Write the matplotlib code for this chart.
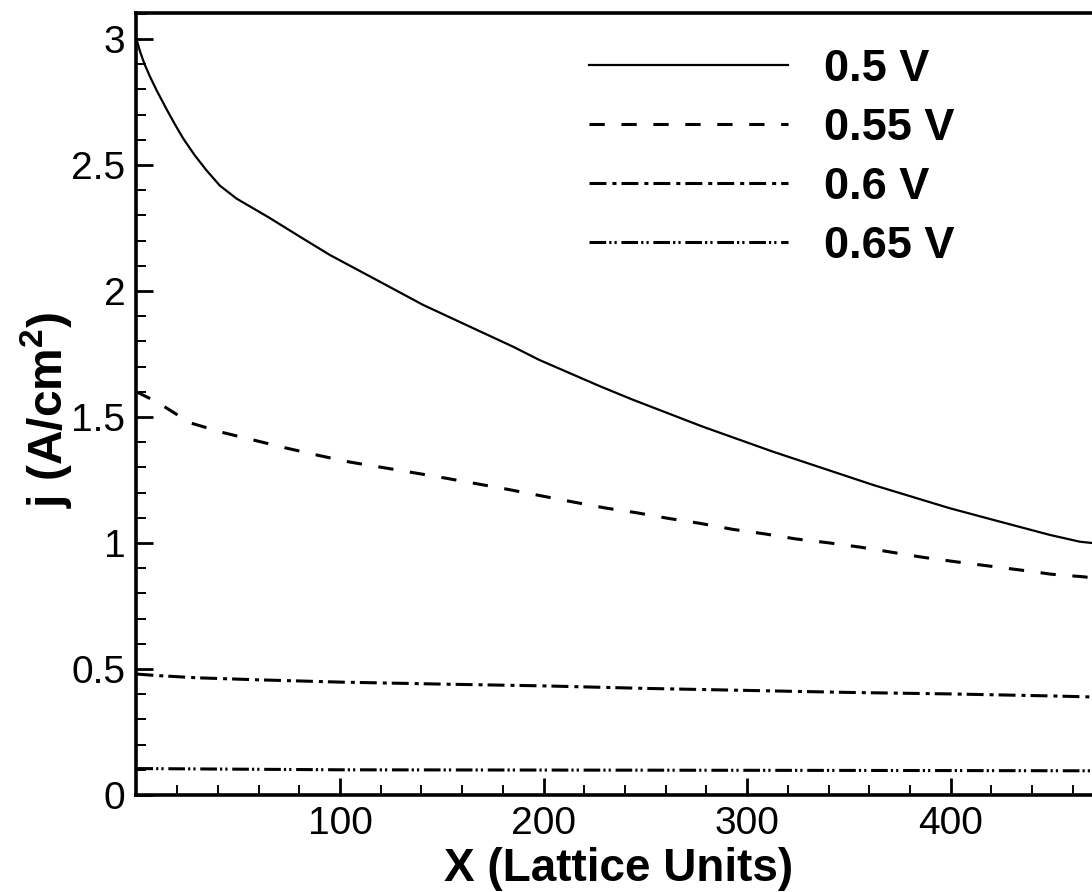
import matplotlib
matplotlib.use("Agg")
import matplotlib.pyplot as plt
from matplotlib.ticker import MultipleLocator

# ---- data ----
labels = ["0.5 V", "0.55 V", "0.6 V", "0.65 V"]

x_05 = [0, 1.8, 4, 6.7, 10, 14.9, 19, 23, 28.5, 34.5, 41, 49.3, 65, 80.4, 95, 120,
        141, 165.5, 185, 198, 227.7, 244, 278.4, 312.8, 362, 399.5, 424, 448.7,
        463.5, 469.4]
j_05 = [3.00, 2.95, 2.90, 2.85, 2.795, 2.72, 2.66, 2.605, 2.54, 2.478, 2.418, 2.366,
        2.292, 2.215, 2.143, 2.035, 1.944, 1.852, 1.779, 1.726, 1.622, 1.568, 1.461,
        1.362, 1.230, 1.138, 1.085, 1.032, 1.005, 1.000]

x_055 = [0, 5, 10, 26.3, 42.1, 57.3, 72.9, 89.2, 104.9, 120.6, 150, 181, 213, 231,
         245.7, 261, 276.8, 293, 308.7, 324, 339.7, 356, 386.5, 402, 418.4, 434,
         449.5, 465, 469.4]
j_055 = [1.60, 1.58, 1.56, 1.477, 1.439, 1.409, 1.378, 1.348, 1.321, 1.300, 1.26,
         1.215, 1.165, 1.138, 1.120, 1.098, 1.078, 1.054, 1.036, 1.016, 1.001, 0.983,
         0.943, 0.926, 0.909, 0.893, 0.876, 0.866, 0.862]

x_06 = [0, 10, 30, 60, 100, 150, 200, 250, 300, 350, 400, 450, 469.4]
j_06 = [0.48, 0.474, 0.465, 0.457, 0.448, 0.440, 0.433, 0.423, 0.415, 0.407, 0.401,
        0.393, 0.389]

x_065 = [0, 100, 200, 300, 400, 469.4]
j_065 = [0.105, 0.100, 0.099, 0.098, 0.097, 0.096]

x_ticks = [100, 200, 300, 400]
y_ticks = [0, 0.5, 1, 1.5, 2, 2.5, 3]
y_tick_labels = ["0", "0.5", "1", "1.5", "2", "2.5", "3"]

# ---- figure ----
plt.rcParams["font.family"] = ["Liberation Sans", "DejaVu Sans"]
plt.rcParams["lines.scale_dashes"] = False
plt.rcParams["mathtext.fontset"] = "custom"
plt.rcParams["mathtext.bf"] = "Liberation Sans:bold"
plt.rcParams["mathtext.rm"] = "Liberation Sans"

W, H = 1092, 892
fig = plt.figure(figsize=(W / 100, H / 100), dpi=100)
ax = fig.add_axes([136.4 / W, 1 - 795 / H, (W - 136.4) / W, (795 - 13) / H])

styles = [
    dict(linestyle="-", linewidth=1.6),
    dict(linestyle=(0, (11, 12)), linewidth=2.2),
    dict(linestyle=(0, (12.2, 4.3, 2.9, 3.6)), linewidth=2.2),
    dict(linestyle=(0, (12, 2.2, 1.6, 2.2, 1.6, 3.4)), linewidth=2.2),
]
series = [(x_05, j_05), (x_055, j_055), (x_06, j_06), (x_065, j_065)]
for (xs, ys), st, lab in zip(series, styles, labels):
    ax.plot(xs, ys, color="black", label=lab, **st)

ax.set_xlim(0, 469.4)
ax.set_ylim(0, 3.103)

ax.set_xticks(x_ticks)
ax.set_xticklabels([str(t) for t in x_ticks])
ax.set_yticks(y_ticks)
ax.set_yticklabels(y_tick_labels)
ax.xaxis.set_minor_locator(MultipleLocator(20))
ax.yaxis.set_minor_locator(MultipleLocator(0.1))

ax.tick_params(which="both", direction="in", top=False, right=False,
               labelsize=28, pad=8)
ax.tick_params(which="major", length=12, width=2.0)
ax.tick_params(which="minor", length=7, width=1.4)

for side in ["left", "bottom", "top"]:
    ax.spines[side].set_linewidth(2.6)
ax.spines["right"].set_visible(False)

ax.set_xlabel("X (Lattice Units)", fontsize=33, fontweight="bold", va="center")
ax.xaxis.set_label_coords(0.505, -0.094)
ax.set_ylabel("j (A/cm$^\\mathbf{2}$)", fontsize=34.5, fontweight="bold", va="center")
ax.yaxis.set_label_coords(-0.095, 0.492)

leg = ax.legend(loc="upper left",
                bbox_to_anchor=((589 - 136.4) / (W - 136.4), 1 - (49 - 13) / 782),
                frameon=False, prop=dict(weight="bold", size=32.5),
                handlelength=4.4, handletextpad=0.8, labelspacing=0.40,
                borderpad=0, borderaxespad=0)

fig.savefig("out.png", dpi=100)
